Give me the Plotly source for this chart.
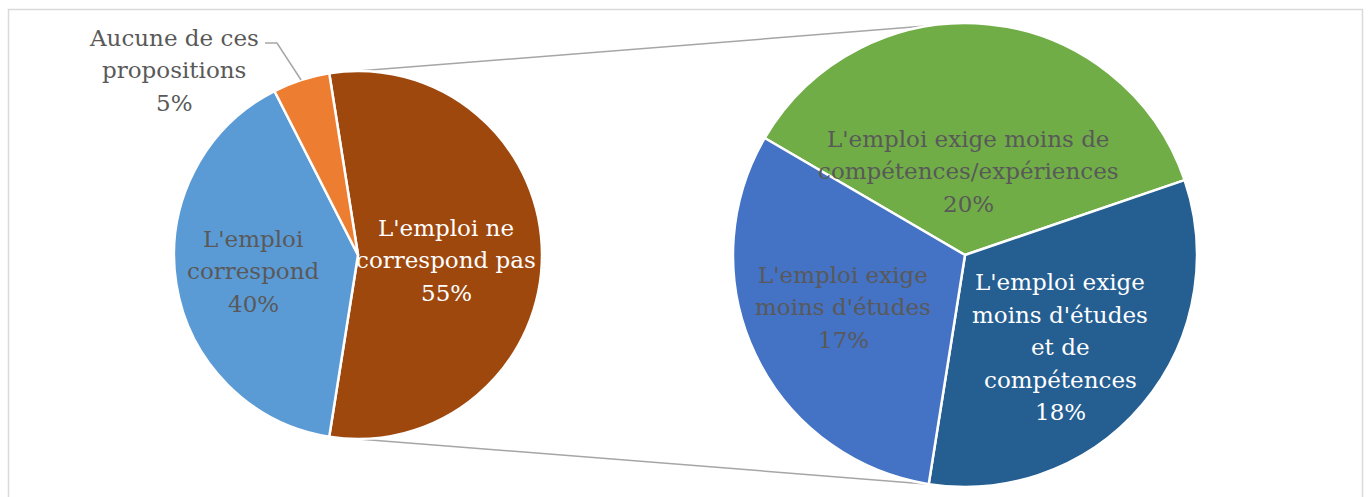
import math
import plotly.graph_objects as go

# Répartition principale : l'emploi correspond-il à la formation ?
main_labels = ["L'emploi ne<br>correspond pas", "L'emploi<br>correspond", "Aucune de ces<br>propositions"]
main_values = [55, 40, 5]
main_colors = ["#9E480E", "#5B9BD5", "#ED7D31"]
main_text_colors = ["#FFFFFF", "#595959", "#595959"]

# Détail de « L'emploi ne correspond pas »
detail_labels = [
    "L'emploi exige moins de<br>compétences/expériences",
    "L'emploi exige<br>moins d'études<br>et de<br>compétences",
    "L'emploi exige<br>moins d'études",
]
detail_values = [20, 18, 17]
detail_colors = ["#70AD47", "#255E91", "#4472C4"]
detail_text_colors = ["#595959", "#FFFFFF", "#595959"]

W, H = 1368, 497
FONT = "DejaVu Serif"
FS = 23
LINE_SPACING = 32.5

# Pie geometry (pixels)
L_CX, L_CY, L_R = 358, 255, 184
R_CX, R_CY, R_R = 965, 255, 232

# Label block centres, as offsets from each pie centre (None = outside label)
main_label_offsets = [(88, 5), (-105, 16), None]
detail_label_offsets = [(3, -84), (95, 92), (-122, 52)]
OUTSIDE_LABEL = (174, 70)


def domain(cx, cy, r):
    return dict(x=[(cx - r) / W, (cx + r) / W],
                y=[(H - cy - r) / H, (H - cy + r) / H])


def polar(cx, cy, r, ang):
    t = math.radians(ang)
    return cx + r * math.sin(t), cy - r * math.cos(t)


# The split slice (first of main) is centred on the right-hand side
split_arc = 360 * main_values[0] / sum(main_values)
rot_left = 90 - split_arc / 2
split_start = rot_left
split_end = rot_left + split_arc
# Second pie: its last slice ends where the split slice ends
detail_total = sum(detail_values)
rot_right = split_end - 360 * sum(detail_values[:-1]) / detail_total


def mid_angles(values, rotation):
    total = sum(values)
    out, a = [], rotation
    for v in values:
        arc = 360 * v / total
        out.append(a + arc / 2)
        a += arc
    return out


fig = go.Figure()

fig.add_trace(go.Pie(
    values=main_values, labels=main_labels, sort=False, direction="clockwise",
    rotation=rot_left, marker=dict(colors=main_colors, line=dict(color="white", width=2.5)),
    textinfo="none", hoverinfo="label+percent", showlegend=False,
    domain=domain(L_CX, L_CY, L_R),
))
fig.add_trace(go.Pie(
    values=detail_values, labels=detail_labels, sort=False, direction="clockwise",
    rotation=rot_right, marker=dict(colors=detail_colors, line=dict(color="white", width=2.5)),
    textinfo="none", hoverinfo="label+value", showlegend=False,
    domain=domain(R_CX, R_CY, R_R),
))

shapes = []
# Outer frame
shapes.append(dict(type="rect", xref="x", yref="y", x0=8.5, y0=9.5, x1=1362.5, y1=520,
                   line=dict(color="#D9D9D9", width=1.5), layer="below"))

# Connector lines between the split slice and the second pie
for ang in (split_start, split_end):
    x0, y0 = polar(L_CX, L_CY, L_R, ang)
    x1, y1 = polar(R_CX, R_CY, R_R, ang)
    shapes.append(dict(type="line", xref="x", yref="y", x0=x0, y0=y0, x1=x1, y1=y1,
                       line=dict(color="#A6A6A6", width=1.5), layer="below"))

annotations = []


def add_label(cx, cy, text, color):
    lines = text.split("<br>")
    n = len(lines)
    for i, ln in enumerate(lines):
        annotations.append(dict(
            x=cx, y=cy + (i - (n - 1) / 2) * LINE_SPACING, xref="x", yref="y",
            text=ln, showarrow=False, font=dict(family=FONT, size=FS, color=color),
            xanchor="center", yanchor="middle"))


main_mid = mid_angles(main_values, rot_left)
for lab, v, col, ang, off in zip(main_labels, main_values, main_text_colors, main_mid, main_label_offsets):
    text = f"{lab}<br>{v}%"
    if off is None:
        tx, ty = OUTSIDE_LABEL
        add_label(tx, ty, text, col)
        px, py = polar(L_CX, L_CY, L_R, ang)
        shapes.append(dict(type="path", xref="x", yref="y",
                           path=f"M {px:.1f},{py:.1f} L 277,43 L 265,43",
                           line=dict(color="#A6A6A6", width=1.5)))
    else:
        add_label(L_CX + off[0], L_CY + off[1], text, col)

for lab, v, col, off in zip(detail_labels, detail_values, detail_text_colors, detail_label_offsets):
    add_label(R_CX + off[0], R_CY + off[1], f"{lab}<br>{v}%", col)

fig.update_layout(
    width=W, height=H, margin=dict(l=0, r=0, t=0, b=0),
    paper_bgcolor="white", plot_bgcolor="white",
    xaxis=dict(range=[0, W], visible=False, fixedrange=True),
    yaxis=dict(range=[H, 0], visible=False, fixedrange=True),
    shapes=shapes, annotations=annotations, showlegend=False,
)

fig.write_html("out.html")
